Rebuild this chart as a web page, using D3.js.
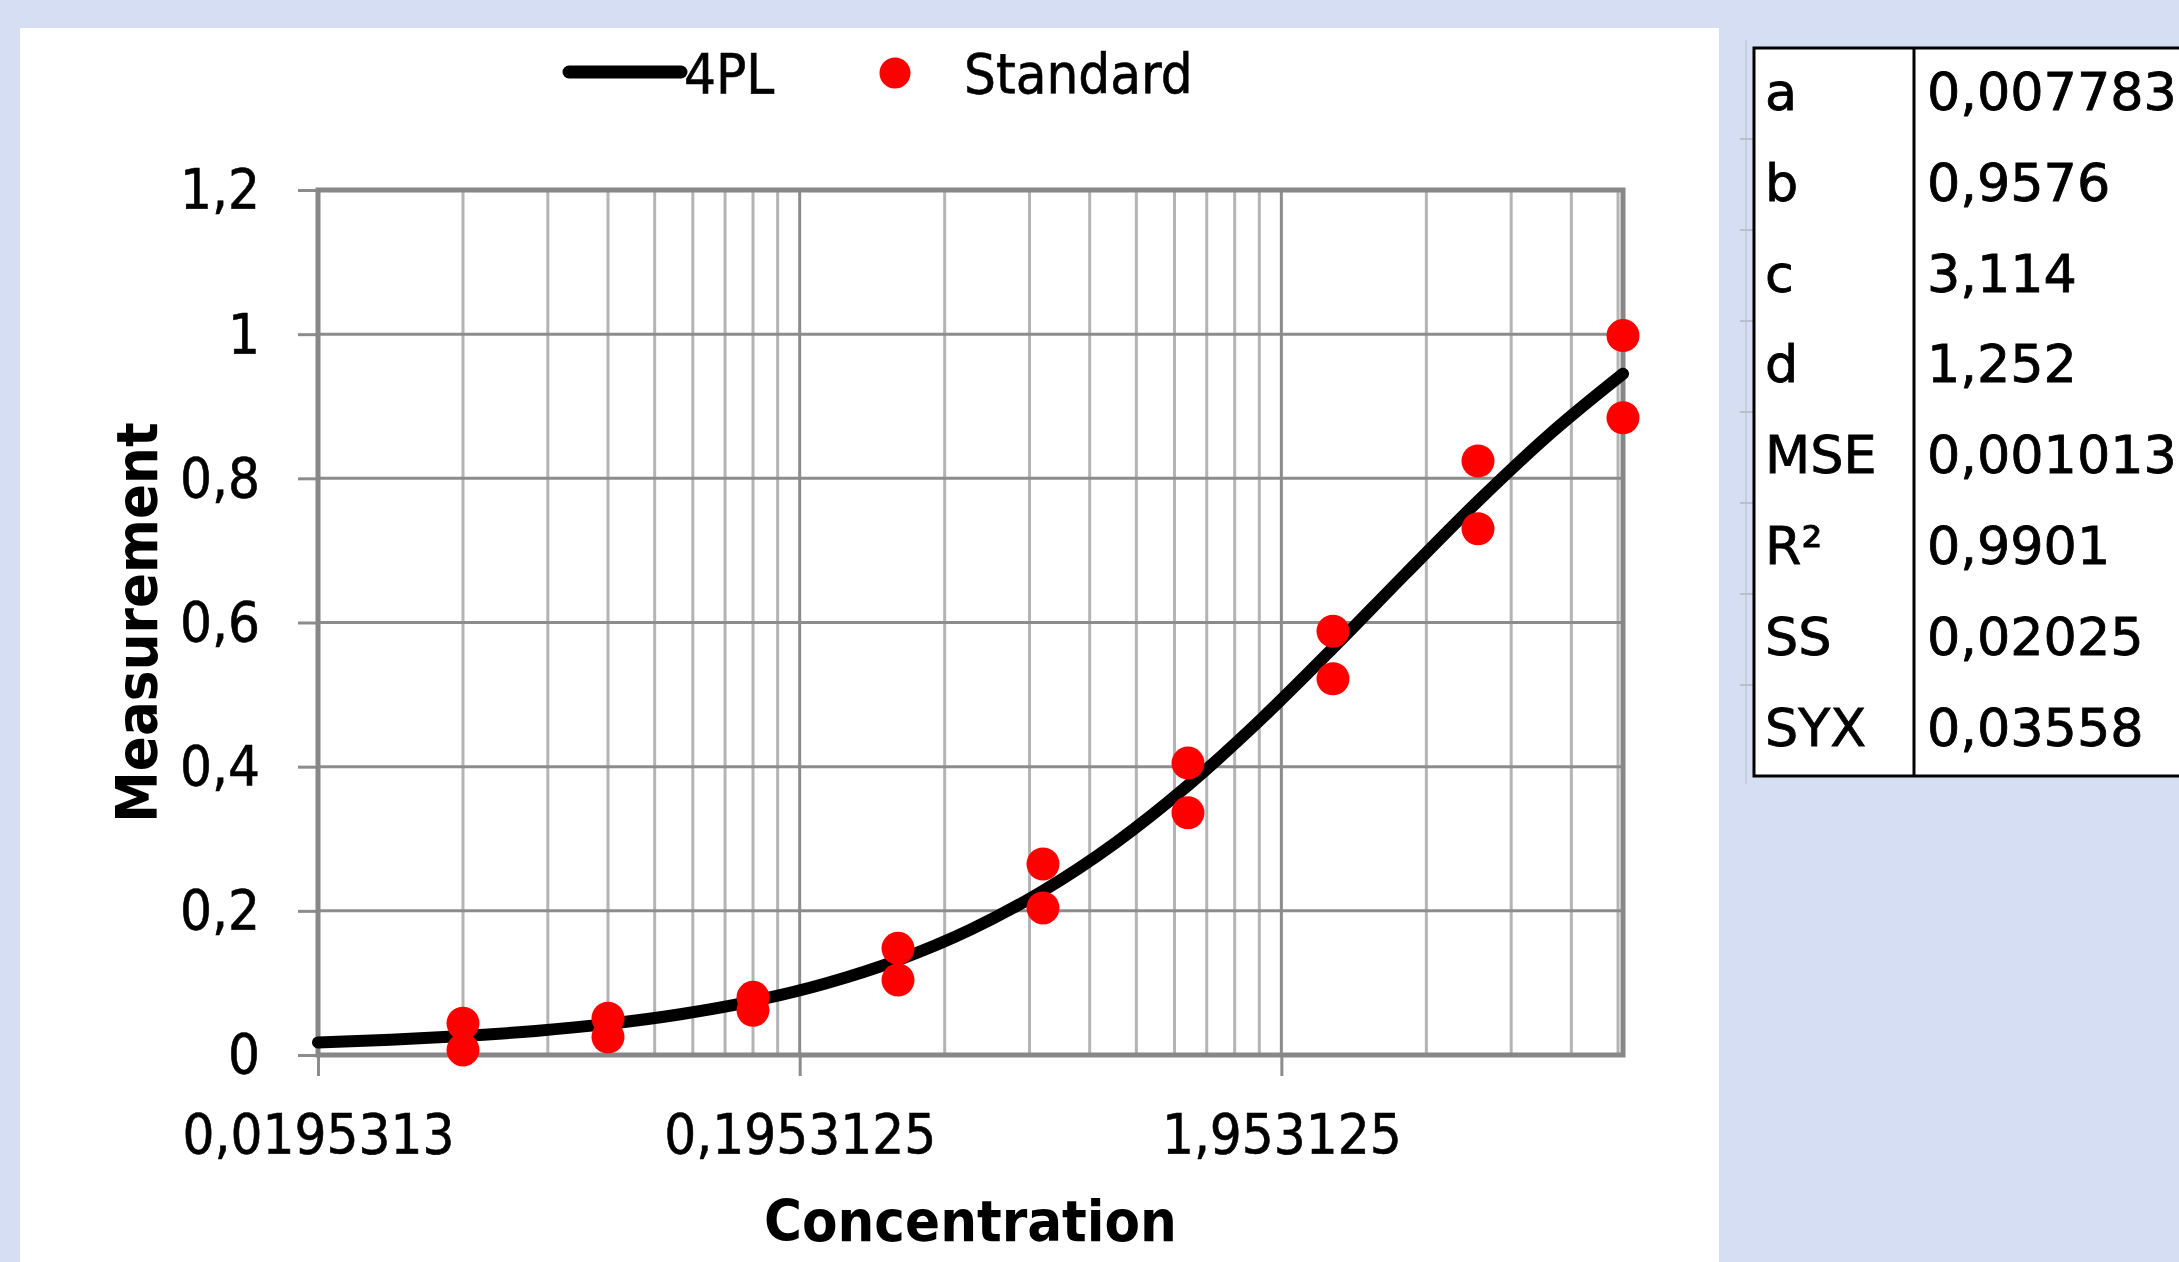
<!DOCTYPE html>
<html><head><meta charset="utf-8">
<script src="https://cdn.jsdelivr.net/npm/d3@7"></script>
<style>html,body{margin:0;padding:0;background:#d5def2;overflow:hidden}</style>
</head><body><svg id="c" width="2179" height="1262"></svg>
<script>
// ---- data ----
const stdConc = [0.0390625, 0.078125, 0.15625, 0.3125, 0.625, 1.25, 2.5, 5, 10];
const stdRep1 = [0.044, 0.051, 0.080, 0.148, 0.265, 0.405, 0.588, 0.824, 0.998];
const stdRep2 = [0.007, 0.025, 0.062, 0.104, 0.204, 0.336, 0.522, 0.730, 0.884];
const curveConc = [0.0195313, 0.0276214, 0.0390625, 0.0552427, 0.078125, 0.110485, 0.15625, 0.220971, 0.3125, 0.441942, 0.625, 0.883883, 1.25, 1.767767, 2.5, 3.535534, 5, 7.071068, 10];
const curveMeas = [0.0174, 0.0211, 0.0263, 0.0334, 0.0432, 0.0566, 0.0748, 0.0993, 0.1317, 0.1739, 0.2278, 0.2944, 0.3740, 0.4651, 0.5646, 0.6675, 0.7684, 0.8622, 0.9451];
const xTickValues = [0.0195313, 0.1953125, 1.953125];
const xTickLabels = ["0,0195313", "0,1953125", "1,953125"];
const yTickValues = [0, 0.2, 0.4, 0.6, 0.8, 1, 1.2];
const yTickLabels = ["0", "0,2", "0,4", "0,6", "0,8", "1", "1,2"];
const seriesNames = ["4PL", "Standard"];
const paramNames = ["a", "b", "c", "d", "MSE", "R²", "SS", "SYX"];
const paramValues = ["0,007783", "0,9576", "3,114", "1,252", "0,001013", "0,9901", "0,02025", "0,03558"];
const xTitle = "Concentration";
const yTitle = "Measurement";

// ---- layout ----
const svg = d3.select("#c");
const L = 318, R = 1623, T = 190, B = 1055;
const chartFont = "'DejaVu Sans Condensed','DejaVu Sans',sans-serif";
const tableFont = "'DejaVu Sans',Verdana,sans-serif";

function fitSize(text, family, weight, target) {
  const t = svg.append("text").attr("font-family", family).attr("font-weight", weight)
    .attr("font-size", 100).text(text);
  const w = t.node().getComputedTextLength();
  t.remove();
  return 100 * target / w;
}
const fsTick = fitSize("0,0195313", chartFont, "normal", 272);
const fsTitle = fitSize(xTitle, chartFont, "bold", 413);
const fsTable = fitSize("0,007783", tableFont, "normal", 250);

// chart area background
svg.append("rect").attr("x", 20).attr("y", 28).attr("width", 1699).attr("height", 1300).attr("fill", "#ffffff");

const x = d3.scaleLog().domain([0.0195313, 10]).range([L, R]);
const y = d3.scaleLinear().domain([0, 1.2]).range([B, T]);

// minor vertical gridlines
const minor = [];
xTickValues.forEach(b => { for (let k = 2; k <= 9; k++) { const v = b * k; if (v < 10) minor.push(v); } });
svg.append("g").selectAll("line").data(minor).join("line")
  .attr("x1", d => x(d)).attr("x2", d => x(d)).attr("y1", T).attr("y2", B)
  .attr("stroke", "#b4b4b4").attr("stroke-width", 3);
// major vertical gridlines
svg.append("g").selectAll("line").data(xTickValues.slice(1)).join("line")
  .attr("x1", d => x(d)).attr("x2", d => x(d)).attr("y1", T).attr("y2", B)
  .attr("stroke", "#8c8c8c").attr("stroke-width", 3);
// horizontal gridlines
svg.append("g").selectAll("line").data(yTickValues).join("line")
  .attr("x1", L).attr("x2", R).attr("y1", d => y(d)).attr("y2", d => y(d))
  .attr("stroke", "#8c8c8c").attr("stroke-width", 3);

// axes
const yAxis = d3.axisLeft(y).tickValues(yTickValues).tickFormat((d, i) => yTickLabels[i])
  .tickSize(20).tickPadding(38);
const gy = svg.append("g").attr("transform", `translate(${L},0)`).call(yAxis);
const xAxis = d3.axisBottom(x).tickValues(xTickValues).tickFormat((d, i) => xTickLabels[i])
  .tickSize(21).tickPadding(37);
const gx = svg.append("g").attr("transform", `translate(0,${B})`).call(xAxis);
[gx, gy].forEach(g => {
  g.select(".domain").remove();
  g.selectAll(".tick line").attr("stroke", "#8c8c8c").attr("stroke-width", 3);
  g.selectAll(".tick text").attr("font-family", chartFont).attr("font-size", fsTick).attr("fill", "#000")
    .attr("stroke", "#000").attr("stroke-width", 0.6);
});

// plot border
svg.append("rect").attr("x", L).attr("y", T).attr("width", R - L).attr("height", B - T)
  .attr("fill", "none").attr("stroke", "#878787").attr("stroke-width", 5);

// 4PL curve
const line = d3.line().x(d => x(d[0])).y(d => y(d[1])).curve(d3.curveMonotoneX);
svg.append("path").datum(curveConc.map((c, i) => [c, curveMeas[i]]))
  .attr("d", line).attr("fill", "none").attr("stroke", "#000").attr("stroke-width", 12)
  .attr("stroke-linecap", "round");

// standard points
const pts = stdConc.flatMap((c, i) => [[c, stdRep1[i]], [c, stdRep2[i]]]);
svg.append("g").selectAll("circle").data(pts).join("circle")
  .attr("cx", d => x(d[0])).attr("cy", d => y(d[1])).attr("r", 16.5).attr("fill", "#ff0000");

// axis titles
svg.append("text").attr("x", (L + R) / 2).attr("y", 1241).attr("text-anchor", "middle")
  .attr("font-family", chartFont).attr("font-weight", "bold").attr("font-size", fsTitle).text(xTitle);
svg.append("text").attr("transform", `translate(157,${(T + B) / 2}) rotate(-90)`).attr("text-anchor", "middle")
  .attr("font-family", chartFont).attr("font-weight", "bold").attr("font-size", fsTitle).text(yTitle);

// legend
const lg = svg.append("g");
lg.append("line").attr("x1", 569).attr("x2", 681).attr("y1", 72).attr("y2", 72)
  .attr("stroke", "#000").attr("stroke-width", 13).attr("stroke-linecap", "round");
lg.append("text").attr("x", 684).attr("y", 93).attr("font-family", chartFont).attr("font-size", fsTick)
  .attr("stroke", "#000").attr("stroke-width", 0.6).text(seriesNames[0]);
lg.append("circle").attr("cx", 895).attr("cy", 73).attr("r", 15.5).attr("fill", "#ff0000");
lg.append("text").attr("x", 964).attr("y", 93).attr("font-family", chartFont).attr("font-size", fsTick)
  .attr("stroke", "#000").attr("stroke-width", 0.6).text(seriesNames[1]);

// parameter table
const tx = 1754, ty = 48, rowH = 91, tRight = 2200, tDiv = 1914;
const tb = svg.append("g");
tb.append("line").attr("x1", 1746).attr("x2", 1746).attr("y1", 40).attr("y2", ty + rowH * 8 + 8)
  .attr("stroke", "#c6cedd").attr("stroke-width", 2);
tb.selectAll("line.rt").data(d3.range(1, 8)).join("line").attr("class", "rt")
  .attr("x1", 1740).attr("x2", tx).attr("y1", d => ty + d * rowH).attr("y2", d => ty + d * rowH)
  .attr("stroke", "#b9bfcc").attr("stroke-width", 2);
tb.append("rect").attr("x", tx).attr("y", ty).attr("width", tRight - tx).attr("height", rowH * 8)
  .attr("fill", "#fff").attr("stroke", "#000").attr("stroke-width", 3);
tb.append("line").attr("x1", tDiv).attr("x2", tDiv).attr("y1", ty).attr("y2", ty + rowH * 8)
  .attr("stroke", "#000").attr("stroke-width", 3);
tb.selectAll("text.pn").data(paramNames).join("text").attr("class", "pn")
  .attr("x", 1765).attr("y", (d, i) => 110 + i * 90.8)
  .attr("font-family", tableFont).attr("font-size", fsTable)
  .attr("stroke", "#000").attr("stroke-width", 0.8).text(d => d);
tb.selectAll("text.pv").data(paramValues).join("text").attr("class", "pv")
  .attr("x", 1927).attr("y", (d, i) => 110 + i * 90.8)
  .attr("font-family", tableFont).attr("font-size", fsTable)
  .attr("stroke", "#000").attr("stroke-width", 0.8).text(d => d);
</script>
</body></html>
